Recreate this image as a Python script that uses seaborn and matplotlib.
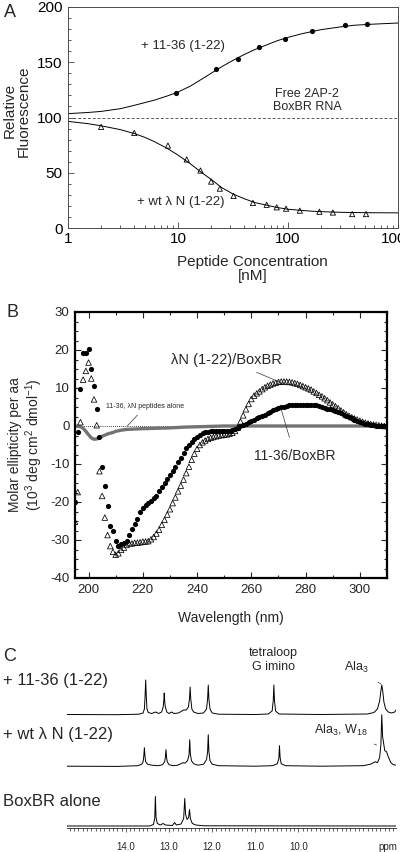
import matplotlib
matplotlib.use("Agg")
import matplotlib.pyplot as plt
import seaborn as sns
import numpy as np
from matplotlib.ticker import MultipleLocator, LogLocator, NullFormatter, FixedLocator

# ---------------- A: 2AP fluorescence titration ----------------
conc_1136 = [9.5, 22, 35, 54, 93, 167, 327, 523]
fluor_1136 = [122, 144, 153, 164, 171, 178, 184, 185]

conc_wt = [2.0, 4.0, 8.1, 12, 16, 20, 24, 32, 48, 64, 79, 96, 128, 193, 256, 383, 512]
fluor_wt = [91.5, 86, 74.6, 62, 52, 42, 35.6, 29, 22.7, 21, 18.7, 17.5, 15.7, 14.7, 14, 12.6, 12.6]

# fitted binding curves
fit_conc = [1, 1.5, 2, 3, 4, 5, 6, 8, 10, 13, 16, 20, 25, 32, 40, 50, 65, 80, 100,
            130, 160, 200, 300, 400, 600, 1000]
fit_1136 = [103.5, 104.5, 105.5, 108, 111, 113.5, 115.5, 119.5, 123, 128.5, 134, 140,
            146, 152, 157, 161.5, 166, 169.5, 172.5, 175.5, 177.5, 179.5, 182, 183.5,
            184.5, 185.5]
fit_wt = [96.5, 94.5, 92.5, 89, 85.5, 82, 78.5, 72, 66, 58, 51, 44, 36.5, 30.5, 26.5,
          23, 20.5, 18.5, 17, 16, 15.3, 14.8, 14.2, 14, 13.8, 13.7]
free_rna_level = 100

# ---------------- B: CD spectra ----------------
wavelength = np.arange(195, 311)
cd_1136 = [
    -20.0, -1.5, 9.8, 19.2, 19.3, 20.2, 15.1, 10.6, 4.6, -2.9,
    -10.9, -15.7, -21.0, -26.3, -27.7, -30.3, -31.5, -31.1, -30.9, -30.2,
    -28.7, -27.2, -25.8, -24.4, -22.6, -21.7, -20.9, -20.3, -19.7, -19.0,
    -18.3, -17.2, -16.0, -15.0, -14.0, -13.0, -11.9, -10.7, -9.5, -8.3,
    -7.0, -5.9, -5.0, -4.2, -3.4, -2.8, -2.3, -1.9, -1.7, -1.5,
    -1.4, -1.3, -1.3, -1.3, -1.3, -1.3, -1.3, -1.3, -1.1, -0.8,
    -0.5, -0.1, 0.3, 0.6, 1.0, 1.3, 1.7, 2.0, 2.4, 2.7,
    3.0, 3.4, 3.7, 4.1, 4.4, 4.7, 4.9, 5.1, 5.2, 5.4,
    5.5, 5.5, 5.6, 5.6, 5.6, 5.6, 5.6, 5.6, 5.5, 5.4,
    5.2, 5.0, 4.8, 4.6, 4.4, 4.2, 3.9, 3.6, 3.3, 3.0,
    2.7, 2.3, 2.0, 1.6, 1.3, 1.0, 0.7, 0.5, 0.4, 0.3,
    0.2, 0.1, 0.1, 0.0, 0.0, 0.0]
cd_wt = [
    -25.2, -17.4, 1.0, 12.2, 14.5, 16.7, 12.5, 7.0, 0.2, -11.9,
    -18.4, -24.1, -28.7, -31.6, -33.1, -33.9, -33.5, -32.6, -32.0, -31.3,
    -30.9, -30.9, -30.7, -30.7, -30.6, -30.4, -30.4, -30.3, -29.8, -29.2,
    -28.3, -27.3, -26.0, -24.7, -23.3, -21.9, -20.3, -18.8, -17.2, -15.7,
    -14.1, -12.4, -10.7, -8.9, -7.3, -6.0, -5.0, -4.3, -3.8, -3.4,
    -3.1, -2.9, -2.7, -2.5, -2.4, -2.3, -2.2, -2.0, -1.8, -1.3,
    -0.4, 1.2, 2.8, 4.4, 5.8, 7.1, 8.0, 8.6, 9.1, 9.7,
    10.2, 10.6, 10.9, 11.2, 11.4, 11.6, 11.7, 11.7, 11.7, 11.6,
    11.5, 11.3, 11.1, 10.8, 10.5, 10.2, 9.9, 9.6, 9.1, 8.7,
    8.2, 7.8, 7.3, 6.8, 6.2, 5.7, 5.2, 4.7, 4.1, 3.6,
    3.1, 2.7, 2.3, 2.0, 1.7, 1.4, 1.1, 0.9, 0.7, 0.5,
    0.4, 0.3, 0.2, 0.1, 0.0, 0.0]
pep_wl = [195, 197, 198, 199, 200, 201, 202, 203, 204, 205, 206, 207, 208, 209, 210,
          212, 214, 217, 220, 225, 230, 235, 240, 245, 250, 260, 280, 310]
pep_cd = [0, -0.2, -0.6, -1.4, -2.3, -3.1, -3.5, -3.4, -3.1, -2.7, -2.4, -2.1, -1.9,
          -1.7, -1.4, -1.1, -0.9, -0.8, -0.7, -0.6, -0.5, -0.3, -0.2, -0.1, 0, 0, 0, 0]

# ---------------- C: imino 1H NMR (intensity in arbitrary units) ----------------
ppm_1136 = [15.37, 14.2, 13.70, 13.60, 13.57, 13.555, 13.54, 13.525, 13.51, 13.48, 13.40,
            13.31, 13.24, 13.17, 13.135, 13.12, 13.11, 13.10, 13.085, 13.05, 13.00, 12.94,
            12.88, 12.78, 12.72, 12.66, 12.60, 12.55, 12.525, 12.51, 12.495, 12.47, 12.43,
            12.33, 12.20, 12.13, 12.105, 12.09, 12.075, 12.05, 12.00, 11.85, 11.0, 10.70,
            10.61, 10.585, 10.57, 10.555, 10.53, 10.45, 9.5, 8.40, 8.25, 8.17, 8.12, 8.09,
            8.07, 8.05, 8.02, 7.98, 7.92, 7.84, 7.77, 7.74]
int_1136 = [0.5, 0.3, 0.8, 2, 6, 18, 35, 18, 6, 2.5, 1.5,
            3, 1.5, 3, 8, 14, 22, 14, 8, 3, 1.5, 3,
            1.5, 2, 3.5, 5, 5, 8, 16, 28, 16, 6, 3,
            1.5, 2, 6, 16, 30, 16, 6, 2, 0.8, 0.5, 1,
            4, 14, 30, 14, 4, 1, 0.5, 1, 2.5, 6, 14, 24,
            30, 25, 13, 6, 3, 2, 3, 5]
ppm_wt = [15.37, 14.2, 13.72, 13.63, 13.60, 13.585, 13.57, 13.555, 13.54, 13.50, 13.40,
          13.25, 13.15, 13.10, 13.085, 13.07, 13.055, 13.04, 13.00, 12.90, 12.80, 12.72,
          12.68, 12.63, 12.57, 12.535, 12.52, 12.505, 12.48, 12.43, 12.33, 12.20, 12.13,
          12.105, 12.09, 12.075, 12.05, 12.00, 11.85, 11.0, 10.60, 10.49, 10.455, 10.44,
          10.425, 10.40, 10.30, 9.5, 8.50, 8.33, 8.22, 8.17, 8.12, 8.09, 8.07, 8.05, 8.00,
          7.96, 7.92, 7.86, 7.80, 7.74]
int_wt = [0.5, 0.3, 1, 2.5, 5, 10, 19, 10, 5, 2.5, 1.5,
          1, 2, 5, 9, 17, 9, 5, 2, 1, 1.5, 3,
          4, 3.5, 6, 12, 27, 13, 6, 3, 1.5, 2.5, 7,
          15, 32, 15, 6, 2.5, 1, 0.5, 1, 3, 8, 21,
          9, 3, 1, 0.5, 1, 2.5, 5, 4, 9, 22, 52, 30, 16,
          15, 10, 4, 2, 1.5]
ppm_free = [15.37, 13.45, 13.36, 13.33, 13.315, 13.30, 13.27, 13.20, 13.14, 13.08, 12.92,
            12.87, 12.83, 12.72, 12.66, 12.635, 12.615, 12.58, 12.545, 12.525, 12.505,
            12.46, 12.38, 12.20, 7.74]
int_free = [0.5, 0.5, 2, 8, 30, 9, 3, 1.5, 3, 1.5, 1,
            4, 1.5, 2.5, 8, 28, 12, 7, 9, 17, 8,
            3, 1.5, 0.7, 0.5]
ppm_ticks = [14.0, 13.0, 12.0, 11.0, 10.0]

# ---------------- style ----------------
sns.set_theme(style="ticks")
plt.rcParams["font.family"] = ["Liberation Sans", "DejaVu Sans"]
plt.rcParams["mathtext.fontset"] = "custom"
plt.rcParams["mathtext.rm"] = "Liberation Sans"
plt.rcParams["mathtext.it"] = "Liberation Sans:italic"
plt.rcParams["mathtext.bf"] = "Liberation Sans:bold"
plt.rcParams["axes.unicode_minus"] = False

W, H = 400, 852
fig = plt.figure(figsize=(W / 100, H / 100), dpi=100)


def box(left, top, right, bottom):
    # axes rectangle from pixel edges
    return [left / W, 1 - bottom / H, (right - left) / W, (bottom - top) / H]


def fpos(x, y):
    return x / W, 1 - y / H


# ================= panel A =================
axA = fig.add_axes(box(68, 7, 398, 228))
axA.set_xscale("log")
axA.axhline(free_rna_level, ls=(0, (3, 2)), lw=0.7, color="0.35", zorder=1)
sns.lineplot(x=fit_conc, y=fit_1136, ax=axA, color="black", lw=0.7, estimator=None)
sns.lineplot(x=fit_conc, y=fit_wt, ax=axA, color="black", lw=0.7, estimator=None)
sns.scatterplot(x=conc_1136, y=fluor_1136, ax=axA, color="black", marker="o", s=14,
                edgecolor="black", linewidth=0, zorder=3)
sns.scatterplot(x=conc_wt, y=fluor_wt, ax=axA, color="black", marker="^", s=14,
                facecolors="none", edgecolor="black", linewidth=0.6, zorder=3)
axA.set_xlim(1, 1000)
axA.set_ylim(0, 200)
axA.set_xticks([1, 10, 100, 1000])
axA.set_xticklabels(["1", "10", "100", "1000"])
axA.xaxis.set_minor_locator(LogLocator(base=10, subs=np.arange(2, 10) * 1.0))
axA.xaxis.set_minor_formatter(NullFormatter())
axA.set_yticks([0, 50, 100, 150, 200])
axA.yaxis.set_minor_locator(MultipleLocator(10))
axA.tick_params(which="both", direction="in", width=0.6, colors="0.25",
                labelcolor="black", labelsize=11)
axA.tick_params(which="major", length=4)
axA.tick_params(which="minor", length=2)
axA.tick_params(axis="y", pad=4)
axA.tick_params(axis="x", pad=3)
for sp in axA.spines.values():
    sp.set_linewidth(0.7)
    sp.set_color("0.3")
axA.set_ylabel("Relative\nFluorescence", fontsize=11, linespacing=1.05)
axA.yaxis.set_label_coords(-0.112, 0.53)
axA.set_xlabel("Peptide Concentration\n[nM]", fontsize=11, linespacing=1.05, va="top")
axA.xaxis.set_label_coords(0.56, -0.12)
axA.text(11.1, 165, "+ 11-36 (1-22)", ha="center", va="center", fontsize=9.5)
axA.text(150, 115, "Free 2AP-2\nBoxBR RNA", ha="center", va="center", fontsize=9,
         linespacing=1.1)
axA.text(10.5, 23.3, "+ wt \u03bb N (1-22)", ha="center", va="center", fontsize=9.5)

# ================= panel B =================
axB = fig.add_axes(box(75, 312, 387, 578))
axB.axhline(0, ls=(0, (1, 1.5)), lw=0.6, color="black", zorder=1)
sns.lineplot(x=pep_wl, y=pep_cd, ax=axB, color="0.45", lw=2.4, estimator=None, zorder=2)
sns.scatterplot(x=wavelength, y=cd_wt, ax=axB, color="black", marker="^", s=16,
                facecolors="none", edgecolor="black", linewidth=0.55, zorder=3)
sns.scatterplot(x=wavelength, y=cd_1136, ax=axB, color="black", marker="o", s=14,
                edgecolor="black", linewidth=0, zorder=4)
axB.set_xlim(195, 310)
axB.set_ylim(-40, 30)
axB.set_xticks(np.arange(200, 301, 20))
axB.xaxis.set_minor_locator(MultipleLocator(10))
axB.set_yticks(np.arange(-40, 31, 10))
axB.yaxis.set_minor_locator(MultipleLocator(2.5))
axB.tick_params(which="both", direction="in", top=True, right=True, width=0.8,
                labelsize=9.5)
axB.tick_params(which="major", length=4)
axB.tick_params(which="minor", length=2)
axB.tick_params(axis="y", pad=4)
axB.tick_params(axis="x", pad=4)
for sp in axB.spines.values():
    sp.set_linewidth(1.6)
    sp.set_color("black")
axB.set_ylabel("Molar ellipticity per aa\n(10$^3$ deg cm$^2$ dmol$^{-1}$)", fontsize=10,
               linespacing=1.1)
axB.yaxis.set_label_coords(-0.096, 0.5)
axB.set_xlabel("Wavelength (nm)", fontsize=10, va="top")
axB.xaxis.set_label_coords(0.5, -0.123)
axB.annotate("\u03bbN (1-22)/BoxBR", xy=(273, 10.8), xytext=(251, 17.4),
             ha="center", va="center", fontsize=10.5,
             arrowprops=dict(arrowstyle="-", lw=0.5, color="0.2", shrinkA=4, shrinkB=0))
axB.annotate("11-36/BoxBR", xy=(271, 4.4), xytext=(276, -7.8),
             ha="center", va="center", fontsize=10,
             arrowprops=dict(arrowstyle="-", lw=0.5, color="0.2", shrinkA=6, shrinkB=0))
axB.annotate("11-36, \u03bbN peptides alone", xy=(214.3, 0), xytext=(221, 5.2),
             ha="center", va="center", fontsize=5,
             arrowprops=dict(arrowstyle="-", lw=0.5, color="0.2", shrinkA=2, shrinkB=0))

# ================= panel C =================
axC = fig.add_axes(box(66.7, 640, 396, 828.3))
axC.patch.set_alpha(0)
base_1136, base_wt, base_free = 113.3, 61.6, 1.8
sns.lineplot(x=ppm_1136, y=np.array(int_1136) + base_1136, ax=axC, color="black",
             lw=0.7, estimator=None)
sns.lineplot(x=ppm_wt, y=np.array(int_wt) + base_wt, ax=axC, color="black",
             lw=0.7, estimator=None)
sns.lineplot(x=ppm_free, y=np.array(int_free) + base_free, ax=axC, color="black",
             lw=0.7, estimator=None)
axC.set_xlim(15.37, 7.74)
axC.set_ylim(0, 188.3)
for side in ["left", "top", "right"]:
    axC.spines[side].set_visible(False)
axC.spines["bottom"].set_linewidth(0.6)
axC.set_yticks([])
axC.xaxis.set_major_locator(FixedLocator(ppm_ticks))
axC.set_xticklabels([f"{v:.1f}" for v in ppm_ticks])
axC.xaxis.set_minor_locator(MultipleLocator(0.1))
axC.tick_params(which="both", direction="out", width=0.5, labelsize=7)
axC.tick_params(which="major", length=3, pad=7)
axC.tick_params(which="minor", length=2)
axC.text(7.92, -19, "ppm", transform=axC.transData, ha="center", va="center", fontsize=7,
         clip_on=False)
axC.text(10.58, 168.3, "tetraloop\nG imino", ha="center", va="center", fontsize=9,
         linespacing=1.25)
axC.annotate("Ala$_3$", xy=(8.06, 143.3), xytext=(8.65, 161), ha="center", va="center",
             fontsize=9, arrowprops=dict(arrowstyle="-", lw=0.5, color="0.2",
                                         shrinkA=5, shrinkB=1))
axC.annotate("Ala$_3$, W$_{18}$", xy=(8.19, 83.3), xytext=(9.02, 98.3), ha="center",
             va="center", fontsize=9,
             arrowprops=dict(arrowstyle="-", lw=0.5, color="0.2", shrinkA=6, shrinkB=0))

# ---------------- labels outside the axes ----------------
fig.text(*fpos(3, 680), "+ 11-36 (1-22)", ha="left", va="center", fontsize=12)
fig.text(*fpos(3, 735), "+ wt \u03bb N (1-22)", ha="left", va="center", fontsize=12)
fig.text(*fpos(3, 801.7), "BoxBR alone", ha="left", va="center", fontsize=12)
fig.text(*fpos(10, 12.5), "A", ha="center", va="center", fontsize=13)
fig.text(*fpos(12, 313), "B", ha="center", va="center", fontsize=13)
fig.text(*fpos(10, 656.7), "C", ha="center", va="center", fontsize=13)

fig.savefig("out.png", dpi=100)
